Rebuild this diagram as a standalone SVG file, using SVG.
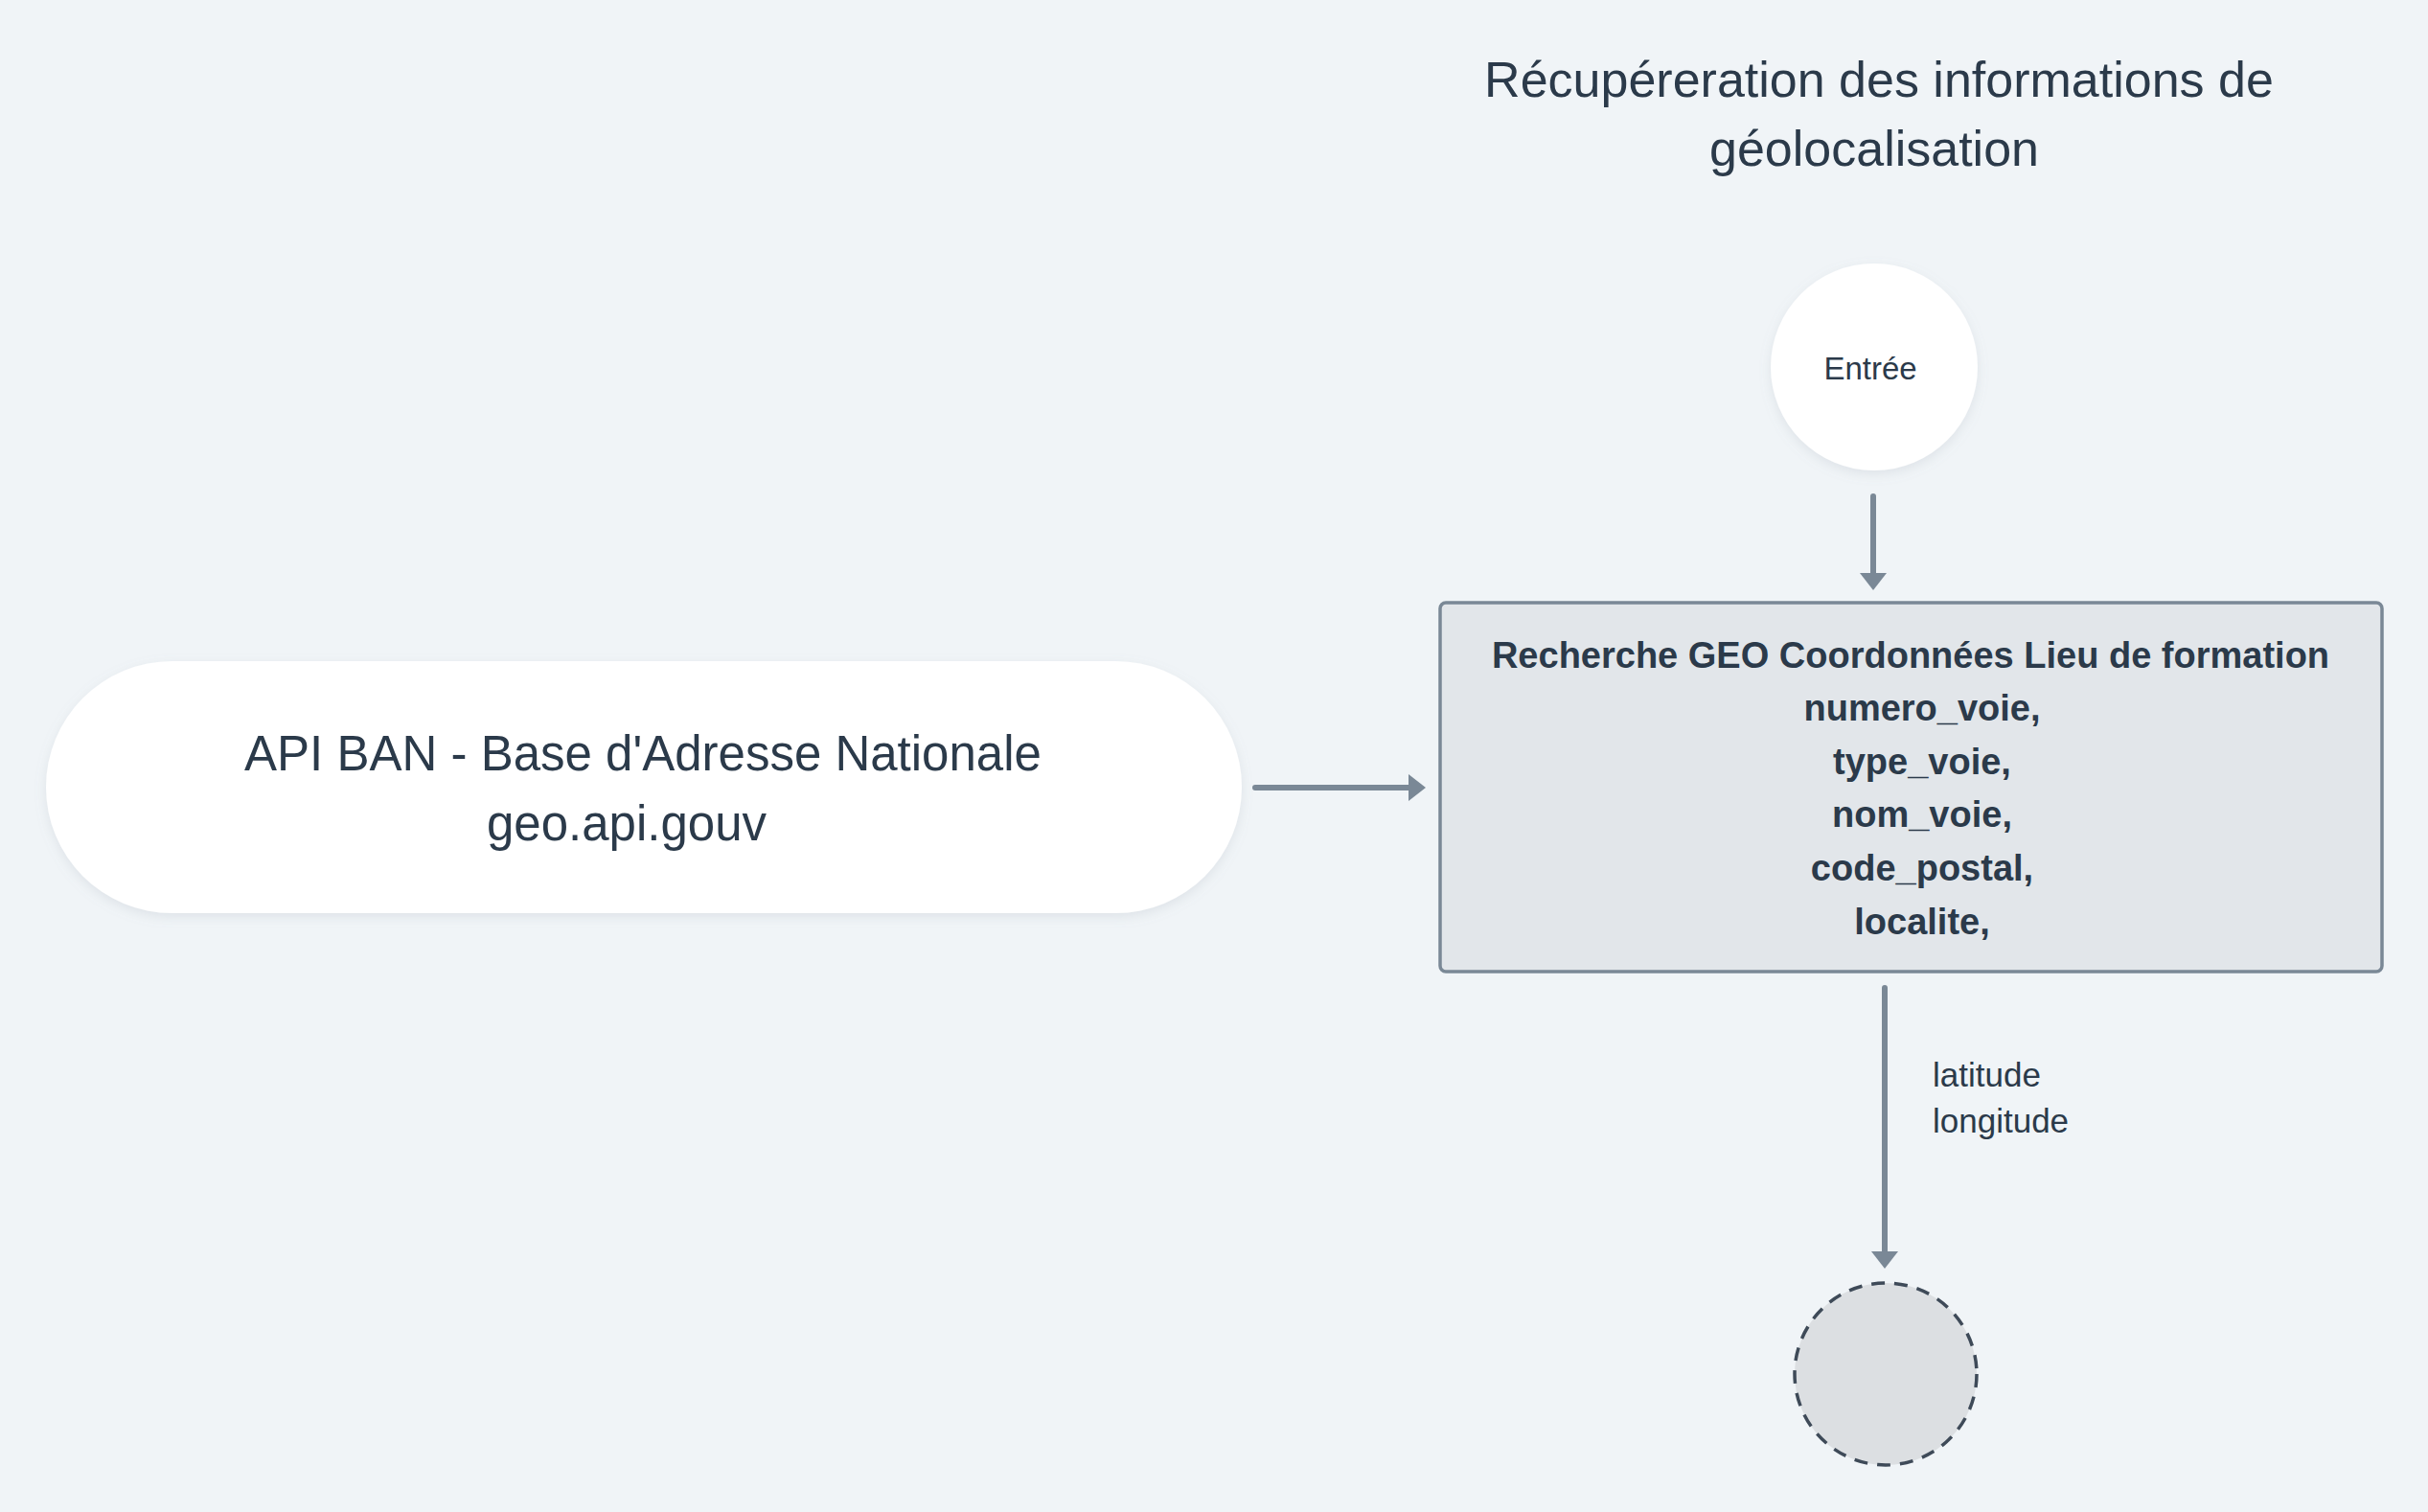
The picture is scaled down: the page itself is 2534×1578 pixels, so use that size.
<svg xmlns="http://www.w3.org/2000/svg" width="2534" height="1578" viewBox="0 0 2534 1578">
<style>
.t{font-family:"Liberation Sans",Arial,sans-serif;fill:#2b3a4a;text-anchor:middle}
.title{font-size:52px}
.pill{font-size:51px}
.small{font-size:33px}
.bold{font-size:38px;font-weight:bold}
.lbl{font-family:"Liberation Sans",Arial,sans-serif;fill:#2b3a4a;font-size:35px}
.edge{stroke:#7a8896;stroke-width:6;fill:none;stroke-linecap:round}
</style>
<defs>
<marker id="ah" viewBox="0 0 18 28" refX="0" refY="14" markerWidth="18" markerHeight="28" markerUnits="userSpaceOnUse" orient="auto">
<path d="M0,0 L18,14 L0,28 z" fill="#7a8896"/>
</marker>
<filter id="sh" x="-10%" y="-10%" width="120%" height="130%">
<feDropShadow dx="0" dy="4" stdDeviation="6" flood-color="#8a96a3" flood-opacity="0.18"/>
</filter>
</defs>
<rect width="2534" height="1578" fill="#f0f4f7"/>
<g id="title">
<text class="t title" x="1961" y="101">Récupéreration des informations de</text>
<text class="t title" x="1956" y="173">géolocalisation</text>
</g>
<g id="connectors">
<path class="edge" d="M1955,518 L1955,598" marker-end="url(#ah)"/>
<path class="edge" d="M1310,822 L1470,822" marker-end="url(#ah)"/>
<path class="edge" d="M1967,1031 L1967,1306" marker-end="url(#ah)"/>
<text class="lbl" x="2017" y="1134">latitude</text>
<text class="lbl" x="2017" y="1182">longitude</text>
</g>
<g id="entree">
<circle cx="1956" cy="383" r="108" fill="#ffffff" filter="url(#sh)"/>
<text class="t small" x="1952" y="396">Entrée</text>
</g>
<g id="api-ban">
<rect x="48" y="690" width="1248" height="263" rx="131.5" ry="131.5" fill="#ffffff" filter="url(#sh)"/>
<text class="t pill" x="671" y="804">API BAN - Base d'Adresse Nationale</text>
<text class="t pill" x="654" y="877">geo.api.gouv</text>
</g>
<g id="recherche">
<rect x="1503" y="629" width="983" height="385" rx="6" ry="6" fill="#e2e6ea" stroke="#7a8896" stroke-width="3.5"/>
<text class="t bold" x="1994" y="697">Recherche GEO Coordonnées Lieu de formation</text>
<text class="t bold" x="2006" y="752">numero_voie,</text>
<text class="t bold" x="2006" y="808">type_voie,</text>
<text class="t bold" x="2006" y="863">nom_voie,</text>
<text class="t bold" x="2006" y="919">code_postal,</text>
<text class="t bold" x="2006" y="975">localite,</text>
</g>
<g id="fin">
<circle cx="1968" cy="1434" r="95" fill="#dcdfe2" stroke="#3e4a58" stroke-width="3.5" stroke-dasharray="14 10"/>
</g>
</svg>
